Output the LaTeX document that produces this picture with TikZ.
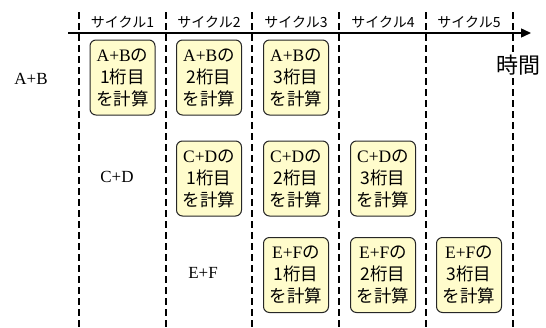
\documentclass[tikz,border=0pt]{standalone}
\usepackage{fontspec}
\setmainfont{Liberation Serif}
\newfontfamily\jp{Noto Sans CJK JP}
\usetikzlibrary{arrows.meta}
\begin{document}
\begin{tikzpicture}[x=1pt,y=-1pt,
  calc/.style={draw=black!85, line width=1pt, fill=yellow!20, rounded corners=6pt,
    minimum width=65pt, minimum height=75pt, inner sep=0pt, align=center,
    font=\fontsize{17.5}{22}\selectfont},
  sep/.style={line width=1.4pt, dash pattern=on 7pt off 4pt},
  head/.style={font=\jp\fontsize{14}{16}\selectfont},
  lbl/.style={font=\fontsize{17}{20}\selectfont}]
\useasboundingbox (0,0) rectangle (546,327);
% separators
\foreach \i/\x in {0/79,1/166,2/252,3/339,4/426,5/513}{
  \coordinate (t\i) at (\x,12);
  \coordinate (b\i) at (\x,327);
  \draw[sep] (t\i) -- (b\i);
}
% time axis
\coordinate (ax0) at (68,33);
\coordinate (ax1) at (531,33);
\draw[line width=1.4pt, -{Triangle[length=10pt,width=9pt]}] (ax0) -- (ax1);
\node[font=\jp\fontsize{22}{24}\selectfont, fill=white, inner sep=1pt] (time) at (518,65) {時間};
% headers
\foreach \i/\x in {1/122.5,2/209,3/296,4/383,5/469}{
  \node[head] (h\i) at (\x,22) {サイクル\i};
}
% row labels
\node[lbl] (lab) at (31,79) {A+B};
\node[lbl] (lcd) at (117,177) {C+D};
\node[lbl] (lef) at (203,273) {E+F};
% boxes
\node[calc] (ab1) at (122.5,77.5) {A+B{\jp の}\\{\jp 1桁目}\\{\jp を計算}};
\node[calc] (ab2) at (209,77.5) {A+B{\jp の}\\{\jp 2桁目}\\{\jp を計算}};
\node[calc] (ab3) at (296,77.5) {A+B{\jp の}\\{\jp 3桁目}\\{\jp を計算}};
\node[calc] (cd1) at (209,178.5) {C+D{\jp の}\\{\jp 1桁目}\\{\jp を計算}};
\node[calc] (cd2) at (296,178.5) {C+D{\jp の}\\{\jp 2桁目}\\{\jp を計算}};
\node[calc] (cd3) at (383,178.5) {C+D{\jp の}\\{\jp 3桁目}\\{\jp を計算}};
\node[calc] (ef1) at (296,275) {E+F{\jp の}\\{\jp 1桁目}\\{\jp を計算}};
\node[calc] (ef2) at (383,275) {E+F{\jp の}\\{\jp 2桁目}\\{\jp を計算}};
\node[calc] (ef3) at (469,275) {E+F{\jp の}\\{\jp 3桁目}\\{\jp を計算}};
\end{tikzpicture}
\end{document}
